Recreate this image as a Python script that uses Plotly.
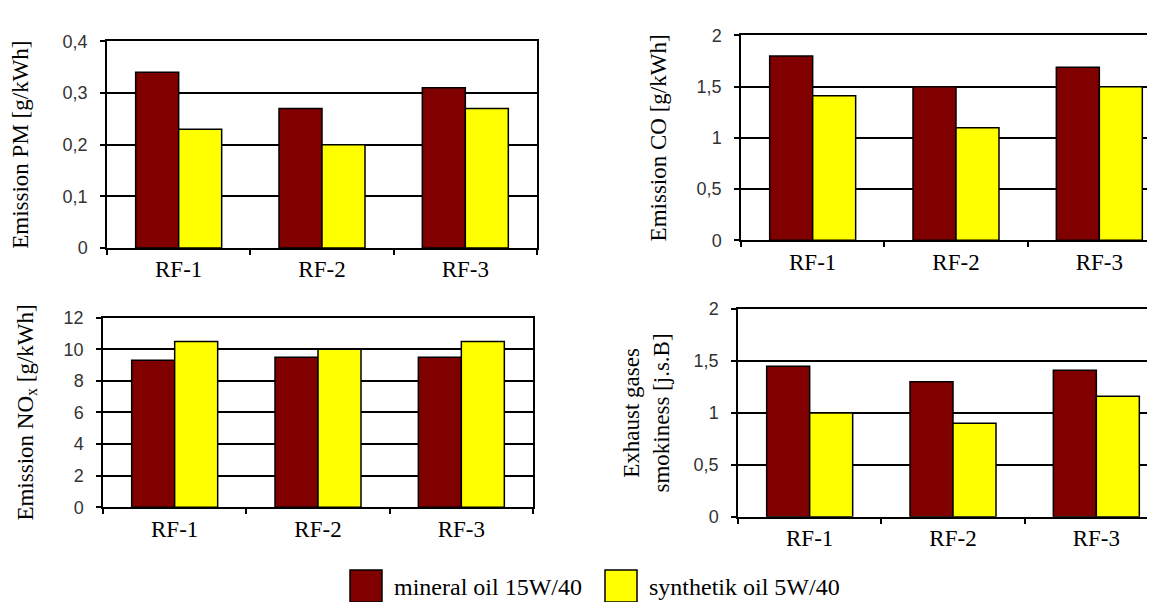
import plotly.graph_objects as go

categories = ["RF-1", "RF-2", "RF-3"]
series_names = ["mineral oil 15W/40", "synthetik oil 5W/40"]

pm_mineral = [0.34, 0.27, 0.31]
pm_synthetic = [0.23, 0.20, 0.27]

co_mineral = [1.80, 1.50, 1.69]
co_synthetic = [1.41, 1.10, 1.50]

nox_mineral = [9.3, 9.5, 9.5]
nox_synthetic = [10.5, 10.0, 10.5]

smoke_mineral = [1.45, 1.30, 1.41]
smoke_synthetic = [1.00, 0.90, 1.16]

W, H = 1155, 602
MINERAL = "#800000"
SYNTH = "#FFFF00"
SERIF = "Liberation Serif, Times New Roman, serif"
SANS = "Liberation Sans, Arial, sans-serif"

fig = go.Figure()

panels = [
    (pm_mineral, pm_synthetic, ""),
    (co_mineral, co_synthetic, "2"),
    (nox_mineral, nox_synthetic, "3"),
    (smoke_mineral, smoke_synthetic, "4"),
]
for mv, sv, s in panels:
    fig.add_trace(go.Bar(x=categories, y=mv, name=series_names[0],
                         marker=dict(color=MINERAL, line=dict(color="black", width=1.5)),
                         xaxis="x" + s, yaxis="y" + s, showlegend=False))
    fig.add_trace(go.Bar(x=categories, y=sv, name=series_names[1],
                         marker=dict(color=SYNTH, line=dict(color="black", width=1.5)),
                         xaxis="x" + s, yaxis="y" + s, showlegend=False))


def px_x(a, b):
    return [a / W, min(b / W, 1.0)]


def px_y(top, bottom):
    return [1 - bottom / H, 1 - top / H]


cat_w = 143.5


def xaxis(domain_px, anchor):
    a, b = domain_px
    right_px = min(b, W)
    hi = 2.5 - (b - right_px) / cat_w
    return dict(domain=px_x(a, right_px), anchor=anchor, type="category",
                range=[-0.5, hi], tickson="boundaries", ticks="outside",
                ticklen=5, tickcolor="black", tickwidth=1.5,
                showline=True, linecolor="black", linewidth=1.5,
                mirror=True, showgrid=False, zeroline=False,
                tickfont=dict(family=SERIF, size=23, color="black"))


def yaxis(domain_px, anchor, rng, dtick, title, mirror, standoff):
    return dict(domain=px_y(*domain_px), anchor=anchor, range=rng, dtick=dtick,
                tick0=0, ticks="outside", ticklen=5, tickcolor="black", tickwidth=1.5,
                ticklabelstandoff=9,
                showline=True, linecolor="black", linewidth=1.5, mirror=mirror,
                showgrid=True, gridcolor="black", gridwidth=1.5, zeroline=False,
                tickfont=dict(family=SANS, size=18, color="#333333"),
                title=dict(text=title, font=dict(family=SERIF, size=23, color="black"),
                           standoff=standoff))


fig.update_layout(
    width=W, height=H,
    margin=dict(l=0, r=0, t=0, b=0),
    paper_bgcolor="white", plot_bgcolor="white",
    separators=",.",
    barmode="group", bargap=0.4, bargroupgap=0,
    xaxis=xaxis((99, 529), "y"),
    yaxis=yaxis((24, 238), "x", [0, 0.4], 0.1, "Emission PM [g/kWh]", True, 28),
    xaxis2=xaxis((733, 1163), "y2"),
    yaxis2=yaxis((18, 230), "x2", [0, 2], 0.5, "Emission CO [g/kWh]", False, 24),
    xaxis3=xaxis((95, 525), "y3"),
    yaxis3=yaxis((310, 506), "x3", [0, 12], 2, "Emission NO<sub>x</sub> [g/kWh]", True, 24),
    xaxis4=xaxis((730, 1160), "y4"),
    yaxis4=yaxis((301, 516), "x4", [0, 2], 0.5, "Exhaust gases<br>smokiness [j.s.B]", False, 18),
)

legend_items = [(342, MINERAL, series_names[0]), (597, SYNTH, series_names[1])]
for x0, col, label in legend_items:
    fig.add_shape(type="rect", xref="paper", yref="paper",
                  x0=x0 / W, x1=(x0 + 32) / W, y0=1 - 604 / H, y1=1 - 571 / H,
                  line=dict(color="black", width=1.5), fillcolor=col)
    fig.add_annotation(x=(x0 + 42) / W, y=1 - 589 / H, xref="paper", yref="paper",
                       text=label, showarrow=False, xanchor="left", yanchor="middle",
                       font=dict(family=SERIF, size=24, color="black"))

fig.write_html("out.html")
